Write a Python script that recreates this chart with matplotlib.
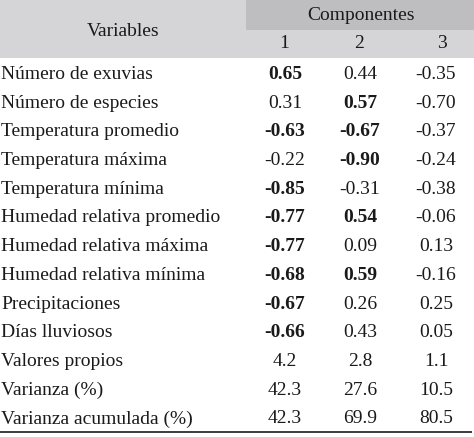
import matplotlib
matplotlib.use("Agg")
import matplotlib.pyplot as plt
from matplotlib.patches import Rectangle

variables = ["Número de exuvias", "Número de especies", "Temperatura promedio",
             "Temperatura máxima", "Temperatura mínima", "Humedad relativa promedio",
             "Humedad relativa máxima", "Humedad relativa mínima", "Precipitaciones",
             "Días lluviosos", "Valores propios", "Varianza (%)", "Varianza acumulada (%)"]
comp1 = ["0.65", "0.31", "-0.63", "-0.22", "-0.85", "-0.77", "-0.77", "-0.68", "-0.67", "-0.66", "4.2", "42.3", "42.3"]
comp2 = ["0.44", "0.57", "-0.67", "-0.90", "-0.31", "0.54", "0.09", "0.59", "0.26", "0.43", "2.8", "27.6", "69.9"]
comp3 = ["-0.35", "-0.70", "-0.37", "-0.24", "-0.38", "-0.06", "0.13", "-0.16", "0.25", "0.05", "1.1", "10.5", "80.5"]
bold1 = [1, 0, 1, 0, 1, 1, 1, 1, 1, 1, 0, 0, 0]
bold2 = [0, 1, 1, 1, 0, 1, 0, 1, 0, 0, 0, 0, 0]
bold3 = [0] * 13
col_headers = ["1", "2", "3"]

W, H = 474, 437
fig = plt.figure(figsize=(W / 100, H / 100), dpi=100)
ax = fig.add_axes([0, 0, 1, 1])
ax.set_xlim(0, W)
ax.set_ylim(H, 0)
ax.axis("off")

font = "Liberation Serif"
fs = 14
tc = "#1a1a1a"

ax.add_patch(Rectangle((0, 0), W, 58, color="#d5d5d7", lw=0))
ax.add_patch(Rectangle((246, 0), W - 246, 30, color="#bebec0", lw=0))
ax.text(123, 32, "Variables", ha="center", va="center", fontsize=fs, family=font, color=tc)
ax.text(361, 16, "Componentes", ha="center", va="center", fontsize=fs, family=font, color=tc)

head_x = [284, 359, 442]
for x, h in zip(head_x, col_headers):
    ax.text(x, 44, h, ha="center", va="center", fontsize=fs, family=font, color=tc)

col_x = [285, 360, 436]
y0, dy = 74.5, 28.7
for i, v in enumerate(variables):
    y = y0 + i * dy
    ax.text(1, y, v, ha="left", va="center", fontsize=fs, family=font, color=tc)
    for x, vals, bolds in zip(col_x, [comp1, comp2, comp3], [bold1, bold2, bold3]):
        ax.text(x, y, vals[i], ha="center", va="center", fontsize=fs, family=font,
                color=tc, fontweight="bold" if bolds[i] else "normal")

ax.plot([0, 472], [432, 432], color="#1a1a1a", lw=1.2, solid_capstyle="butt")

fig.savefig("out.png", dpi=100)
